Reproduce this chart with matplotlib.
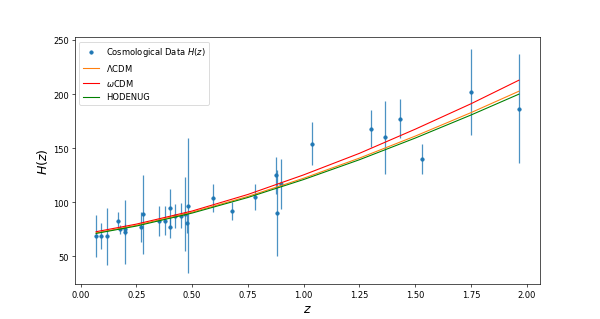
import numpy as np
import matplotlib
matplotlib.use('Agg')
import matplotlib.pyplot as plt

# observational H(z) data (z, H, sigma)
z_data = [0.07, 0.09, 0.12, 0.17, 0.179, 0.199, 0.2, 0.27, 0.28, 0.352,
          0.3802, 0.4, 0.4004, 0.4247, 0.4497, 0.47, 0.4783, 0.48, 0.593, 0.68,
          0.781, 0.875, 0.88, 0.9, 1.037, 1.3, 1.363, 1.43, 1.53, 1.75, 1.965]
H_data = [69, 69, 68.6, 83, 75, 75, 72.9, 77, 88.8, 83,
          83, 95, 77, 87.1, 87.5, 89, 80.9, 97, 104, 92,
          105, 125, 90, 117, 154, 168, 160, 177, 140, 202, 186.5]
H_err = [19.6, 12, 26.2, 8, 4, 5, 29.6, 14, 36.6, 14,
         13.5, 17, 10.2, 11.2, 11.5, 34, 9, 62, 13, 8,
         12, 17, 40, 23, 20, 17, 33.6, 18, 14, 40, 50.4]

# model curves
z_model = [0.07, 0.25, 0.5, 0.75, 1.0, 1.25, 1.5, 1.75, 1.965]
H_lcdm = [71.7, 78.7, 90.8, 105.4, 122.2, 140.8, 161.1, 182.8, 202.6]
H_wcdm = [72.8, 79.8, 91.9, 107.2, 125.3, 145.2, 167.5, 191.0, 212.8]
H_hode = [71.2, 78.0, 90.0, 104.4, 121.0, 139.3, 159.3, 180.6, 199.9]

fig = plt.figure(figsize=(10, 5.333), dpi=60)
ax = fig.add_subplot(111)

ax.errorbar(z_data, H_data, yerr=H_err, fmt='none', ecolor='C0', alpha=0.8)
pts = ax.scatter(z_data, H_data, s=16, color='C0', label='Cosmological Data $H(z)$')
l1, = ax.plot(z_model, H_lcdm, color='C1', lw=1.3, label=r'$\Lambda$CDM')
l2, = ax.plot(z_model, H_wcdm, color='red', lw=1.3, label=r'$\omega$CDM')
l3, = ax.plot(z_model, H_hode, color='green', lw=1.3, label='HODENUG')

ax.set_xlabel('$z$', fontsize=15)
ax.set_ylabel('$H(z)$', fontsize=15)
ax.legend(handles=[pts, l1, l2, l3], loc='upper left')

fig.savefig('out.png')
